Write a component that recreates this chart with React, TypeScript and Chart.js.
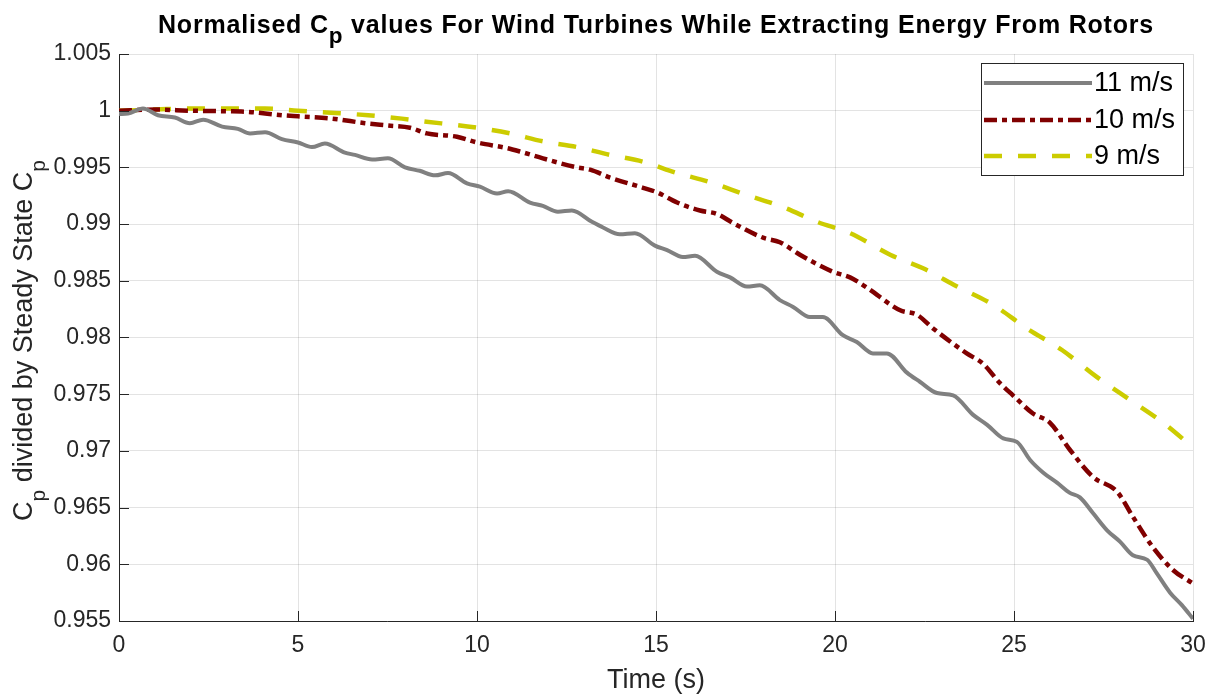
import React, { useEffect, useRef } from 'react';
import Chart from 'chart.js/auto';

// ---------- data ----------
const time11 = [0, 0.25, 0.67, 1.09, 1.56, 1.98, 2.35, 2.88, 3.32, 3.66, 4.08, 4.55, 5.0, 5.39, 5.75, 6.31, 6.59, 7.07, 7.51, 7.99, 8.4, 8.83, 9.19, 9.72, 10.08, 10.56, 10.87, 11.48, 11.84, 12.26, 12.65, 13.21, 13.52, 13.99, 14.41, 14.97, 15.31, 15.75, 16.09, 16.7, 17.07, 17.54, 17.9, 18.46, 18.83, 19.3, 19.66, 20.22, 20.61, 21.06, 21.45, 22.01, 22.37, 22.85, 23.3, 23.85, 24.25, 24.7, 25.08, 25.45, 25.81, 26.2, 26.56, 26.84, 27.21, 27.6, 27.96, 28.32, 28.72, 28.99, 29.36, 29.69, 30];
const cp11 = [0.9997, 0.99975, 1.0002, 0.9996, 0.9994, 0.9989, 0.9992, 0.9986, 0.9984, 0.998, 0.9981, 0.9975, 0.9972, 0.9968, 0.9971, 0.9963, 0.9961, 0.9957, 0.9958, 0.995, 0.9947, 0.9943, 0.9945, 0.9936, 0.9933, 0.9927, 0.9929, 0.9919, 0.9916, 0.9911, 0.9912, 0.9902, 0.9897, 0.9891, 0.9892, 0.9881, 0.9877, 0.9871, 0.9872, 0.9858, 0.9853, 0.9845, 0.9846, 0.9833, 0.9827, 0.9818, 0.9818, 0.9802, 0.9796, 0.9786, 0.9786, 0.9769, 0.9761, 0.9751, 0.9749, 0.9732, 0.9723, 0.9711, 0.9708, 0.9692, 0.9681, 0.9672, 0.9663, 0.9659, 0.9645, 0.963, 0.962, 0.9608, 0.9604, 0.9592, 0.9575, 0.9564, 0.9552];

const time10 = [0, 1, 2, 3, 3.6, 4.55, 5, 5.95, 6.87, 7.5, 8.13, 8.6, 9.44, 10, 10.84, 11.2, 11.84, 12.79, 13.16, 13.72, 14.64, 15.03, 15.59, 16.23, 16.7, 17.15, 17.99, 18.46, 19.02, 19.94, 20.42, 20.89, 21.82, 22.29, 22.74, 23.68, 24.13, 24.6, 24.97, 25.53, 26.0, 26.56, 27.21, 27.88, 28.32, 28.88, 29.44, 30];
const cp10 = [1.0, 1.0001, 1.0, 0.99995, 0.9999, 0.9996, 0.9995, 0.9993, 0.9989, 0.9987, 0.9985, 0.998, 0.9977, 0.9972, 0.9967, 0.9964, 0.9958, 0.995, 0.9948, 0.9941, 0.9932, 0.9928, 0.9919, 0.9912, 0.9909, 0.9901, 0.9888, 0.9884, 0.9873, 0.9858, 0.9853, 0.9844, 0.9824, 0.982, 0.9808, 0.9786, 0.9777, 0.976, 0.9749, 0.9733, 0.9725, 0.9701, 0.9677, 0.9664, 0.9642, 0.9615, 0.9595, 0.9583];

const time9 = [0, 1, 2, 3.24, 4.08, 5, 6.03, 6.96, 7.9, 8.4, 10, 10.92, 11.84, 12.79, 13.72, 14.64, 15.59, 16.51, 17.5, 18.55, 19.5, 20.42, 21.54, 22.46, 23.41, 24.41, 25.36, 26.34, 27.32, 28.24, 29.16, 30];
const cp9 = [1.0, 1.0001, 1.0002, 1.0002, 1.0002, 1.0, 0.9998, 0.9996, 0.9993, 0.9991, 0.9985, 0.998, 0.9973, 0.9968, 0.9961, 0.9955, 0.9945, 0.9937, 0.9926, 0.9915, 0.9902, 0.9892, 0.9873, 0.9861, 0.9845, 0.9829, 0.9808, 0.9789, 0.9765, 0.9745, 0.9725, 0.9703];

const seriesLabels = ['11 m/s', '10 m/s', '9 m/s'];
const xTickStep = 5;
const yTickStep = 0.005;
const xMin = 0, xMax = 30;
const yMin = 0.955, yMax = 1.005;

const FONT = '"Liberation Sans", Arial, Helvetica, sans-serif';
const AXIS_COLOR = '#262626';

type Part = { t: string; sub?: boolean };

function drawRich(ctx: CanvasRenderingContext2D, parts: Part[], cx: number, y: number, size: number, weight: string, color: string, subScale: number, subDy: number, spacing = 0) {
  (ctx as any).letterSpacing = `${spacing}px`;
  const widths = parts.map((p) => {
    ctx.font = `${weight} ${p.sub ? size * subScale : size}px ${FONT}`;
    return ctx.measureText(p.t).width;
  });
  const total = widths.reduce((a, b) => a + b, 0);
  let x = cx - total / 2;
  ctx.fillStyle = color;
  ctx.textAlign = 'left';
  ctx.textBaseline = 'alphabetic';
  parts.forEach((p, i) => {
    ctx.font = `${weight} ${p.sub ? size * subScale : size}px ${FONT}`;
    ctx.fillText(p.t, x, p.sub ? y + subDy : y);
    x += widths[i];
  });
  (ctx as any).letterSpacing = '0px';
}

const decorPlugin = {
  id: 'matlabDecor',
  afterDraw(chart: any) {
    const ctx: CanvasRenderingContext2D = chart.ctx;
    const area = chart.chartArea;
    const xs = chart.scales.x;
    const ys = chart.scales.y;
    ctx.save();
    // inward ticks
    ctx.strokeStyle = AXIS_COLOR;
    ctx.lineWidth = 1;
    ctx.setLineDash([]);
    ys.ticks.forEach((t: any) => {
      const py = Math.round(ys.getPixelForValue(t.value)) + 0.5;
      ctx.beginPath();
      ctx.moveTo(area.left, py);
      ctx.lineTo(area.left + 10, py);
      ctx.stroke();
    });
    xs.ticks.forEach((t: any) => {
      const px = Math.round(xs.getPixelForValue(t.value)) + 0.5;
      ctx.beginPath();
      ctx.moveTo(px, area.bottom);
      ctx.lineTo(px, area.bottom - 10);
      ctx.stroke();
    });

    const midX = (area.left + area.right) / 2;
    const midY = (area.top + area.bottom) / 2;
    // title
    drawRich(ctx, [
      { t: 'Normalised C' }, { t: 'p', sub: true },
      { t: ' values For Wind Turbines While Extracting Energy From Rotors' },
    ], midX, 33, 25, 'bold', '#000000', 0.9, 10, 0.8);

    // x title
    drawRich(ctx, [{ t: 'Time (s)' }], midX, 688, 27, 'normal', AXIS_COLOR, 1, 0);

    // y title
    ctx.save();
    ctx.translate(32, midY + 3);
    ctx.rotate(-Math.PI / 2);
    drawRich(ctx, [
      { t: 'C' }, { t: 'p', sub: true }, { t: ' divided by Steady State C' }, { t: 'p', sub: true },
    ], 0, 0, 27, 'normal', AXIS_COLOR, 0.78, 13);
    ctx.restore();

    // legend
    const lx = 981.5, ly = 63.5, lw = 202, lh = 112;
    ctx.fillStyle = '#ffffff';
    ctx.fillRect(lx, ly, lw, lh);
    ctx.strokeStyle = AXIS_COLOR;
    ctx.lineWidth = 1;
    ctx.setLineDash([]);
    ctx.strokeRect(lx, ly, lw, lh);
    const rowY = [83, 120, 156];
    chart.data.datasets.forEach((ds: any, i: number) => {
      ctx.save();
      ctx.strokeStyle = ds.borderColor;
      ctx.lineWidth = ds.borderWidth;
      ctx.lineCap = 'butt';
      ctx.setLineDash(ds.borderDash || []);
      ctx.beginPath();
      ctx.moveTo(984, rowY[i]);
      ctx.lineTo(1092, rowY[i]);
      ctx.stroke();
      ctx.restore();
      ctx.fillStyle = '#000000';
      ctx.font = `27px ${FONT}`;
      ctx.textAlign = 'left';
      ctx.textBaseline = 'middle';
      ctx.fillText(ds.label, 1094, rowY[i] + 1);
    });
    ctx.restore();
  },
};

function toPoints(ts: number[], vs: number[]) {
  return ts.map((t, i) => ({ x: t, y: vs[i] }));
}

export default function App() {
  const ref = useRef<HTMLCanvasElement>(null);
  useEffect(() => {
    if (!ref.current) return;
    const tickFont = { family: FONT, size: 23 };
    const chart = new Chart(ref.current, {
      type: 'line',
      data: {
        datasets: [
          {
            label: seriesLabels[0],
            data: toPoints(time11, cp11),
            borderColor: 'rgb(128,128,128)',
            borderWidth: 4,
            pointRadius: 0,
            cubicInterpolationMode: 'monotone',
            fill: false,
          },
          {
            label: seriesLabels[1],
            data: toPoints(time10, cp10),
            borderColor: 'rgb(128,0,0)',
            borderWidth: 4.5,
            borderDash: [13, 5, 5, 5],
            borderCapStyle: 'butt',
            pointRadius: 0,
            cubicInterpolationMode: 'monotone',
            fill: false,
          },
          {
            label: seriesLabels[2],
            data: toPoints(time9, cp9),
            borderColor: 'rgb(204,204,0)',
            borderWidth: 4.5,
            borderDash: [18, 16],
            borderCapStyle: 'butt',
            pointRadius: 0,
            cubicInterpolationMode: 'monotone',
            fill: false,
          },
        ],
      },
      options: {
        responsive: false,
        animation: false,
        devicePixelRatio: 1,
        layout: { padding: { left: 0, right: 20, top: 54, bottom: 0 } },
        plugins: {
          legend: { display: false },
          title: { display: false },
          tooltip: { enabled: false },
        },
        scales: {
          x: {
            type: 'linear',
            min: xMin,
            max: xMax,
            ticks: { stepSize: xTickStep, font: tickFont, color: AXIS_COLOR, padding: 11, maxRotation: 0 },
            grid: { color: 'rgba(38,38,38,0.13)', drawTicks: false, lineWidth: 1 },
            border: { display: true, color: AXIS_COLOR, width: 1 },
            afterFit: (s: any) => { s.height = 74; s.paddingLeft = 0; s.paddingRight = 0; },
          },
          y: {
            type: 'linear',
            min: yMin,
            max: yMax,
            ticks: {
              stepSize: yTickStep,
              font: tickFont,
              color: AXIS_COLOR,
              padding: 8,
              callback: (v: any) => String(Number(Number(v).toFixed(3))),
            },
            grid: { color: 'rgba(38,38,38,0.13)', drawTicks: false, lineWidth: 1 },
            border: { display: true, color: AXIS_COLOR, width: 1 },
            afterFit: (s: any) => { s.width = 119; s.paddingTop = 0; s.paddingBottom = 0; },
          },
        },
      } as any,
      plugins: [decorPlugin],
    });
    return () => chart.destroy();
  }, []);
  return (
    <div style={{ position: 'fixed', left: 0, top: 0, width: 1213, height: 695, background: '#ffffff' }}>
      <canvas ref={ref} width={1213} height={695} style={{ display: 'block' }} />
    </div>
  );
}
